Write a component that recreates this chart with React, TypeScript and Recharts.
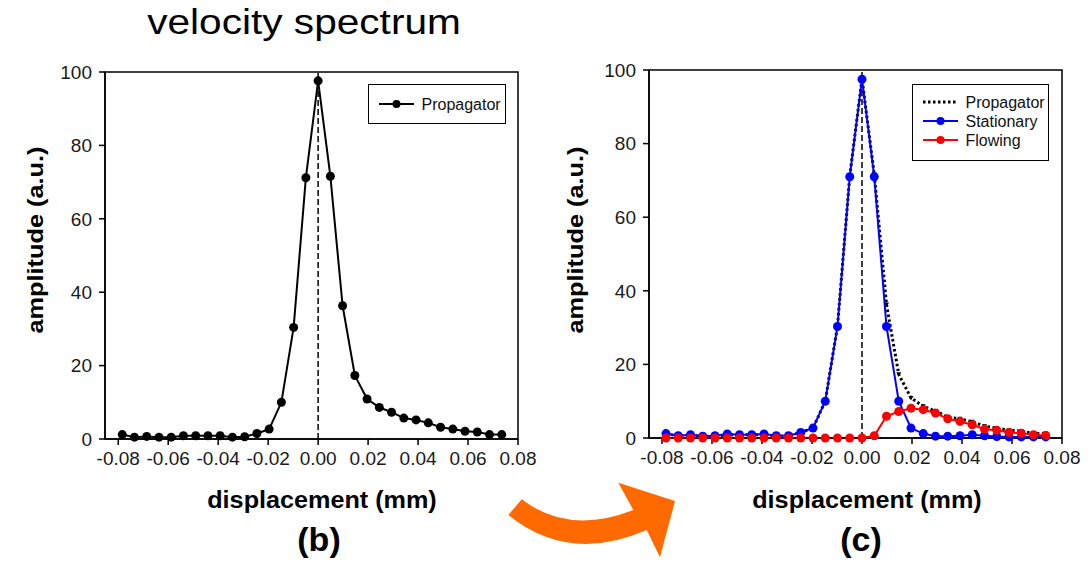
import React from "react";
import { LineChart, Line, XAxis, YAxis, ReferenceLine, ReferenceArea, Legend } from "recharts";

const FONT = '"Liberation Sans", Arial, Helvetica, sans-serif';

// displacement (mm) of each sample
const displacement = [
  -0.0784, -0.0735, -0.0686, -0.0637, -0.0588, -0.0539, -0.049, -0.0441,
  -0.0392, -0.0343, -0.0294, -0.0245, -0.0196, -0.0147, -0.0098, -0.0049,
  0, 0.0049, 0.0098, 0.0147, 0.0196, 0.0245, 0.0294, 0.0343,
  0.0392, 0.0441, 0.049, 0.0539, 0.0588, 0.0637, 0.0686, 0.0735,
];

const propagator = [
  1.2, 0.5, 0.7, 0.5, 0.5, 0.9, 0.9, 0.9,
  0.9, 0.5, 0.6, 1.5, 2.7, 10.0, 30.4, 71.2,
  97.6, 71.6, 36.3, 17.3, 10.9, 8.6, 7.3, 5.7,
  5.2, 4.4, 3.2, 2.7, 2.1, 1.9, 1.2, 1.2,
];

const stationary = [
  1.2, 0.6, 0.9, 0.5, 0.6, 1.1, 0.9, 0.9,
  1.1, 0.6, 0.6, 1.5, 2.7, 10.0, 30.3, 71.0,
  97.5, 71.0, 30.3, 10.0, 2.7, 1.2, 0.5, 0.5,
  0.6, 0.9, 0.6, 0.4, 0.3, 0.3, 0.3, 0.3,
];

const flowing = [
  0, 0, 0, 0, 0, 0, 0, 0,
  0, 0, 0, 0, 0, 0, 0, 0,
  0, 0.6, 5.9, 7.2, 8.1, 7.7, 6.8, 5.2,
  4.5, 3.6, 2.4, 2.1, 1.5, 1.3, 0.9, 0.7,
];

const xTicks = [-0.08, -0.06, -0.04, -0.02, 0, 0.02, 0.04, 0.06, 0.08];
const yTicks = [0, 20, 40, 60, 80, 100];
const xDomainB: [number, number] = [-0.0853, 0.08];
const xDomainC: [number, number] = [-0.0852, 0.08];

const dataB = displacement.map((x, i) => ({ x, propagator: propagator[i] }));
const dataC = displacement.map((x, i) => ({
  x,
  propagator: propagator[i],
  stationary: stationary[i],
  flowing: flowing[i],
}));

const tickStyle = { fill: "#1a1a1a", fontSize: 19, fontFamily: FONT };
const axisStroke = { stroke: "#000", strokeWidth: 1.5 };

type Item = { label: string; color: string; dotted?: boolean };

function LegendBox({ items, width, padTop, padBottom }: { items: Item[]; width: number; padTop: number; padBottom: number }) {
  return (
    <div
      style={{
        border: "1.5px solid #000",
        background: "#fff",
        width,
        boxSizing: "border-box",
        paddingTop: padTop,
        paddingBottom: padBottom,
        fontFamily: FONT,
        fontSize: 16,
        color: "#111",
      }}
    >
      {items.map((it) => (
        <div key={it.label} style={{ display: "flex", alignItems: "center", height: 19 }}>
          <svg width={35} height={10} style={{ marginLeft: 9.5, marginRight: 8, display: "block" }}>
            <line
              x1={0}
              y1={5}
              x2={35}
              y2={5}
              stroke={it.color}
              strokeWidth={it.dotted ? 3 : 2}
              strokeDasharray={it.dotted ? "2.5 2.5" : undefined}
            />
            {!it.dotted && <circle cx={17.5} cy={5} r={4} fill={it.color} />}
          </svg>
          <span style={{ lineHeight: "19px", whiteSpace: "nowrap" }}>{it.label}</span>
        </div>
      ))}
    </div>
  );
}

// small down-pointing triangles on the dotted propagator line
const triDot = (p: any) => {
  if (p.cx == null || p.cy == null) return <g key={p.index} />;
  return (
    <path
      key={p.index}
      d={`M${p.cx - 2.5},${p.cy - 2} L${p.cx + 2.5},${p.cy - 2} L${p.cx},${p.cy + 2.5} Z`}
      fill="#000"
    />
  );
};

function HText({ x, top, size, bold, scale, children }: any) {
  return (
    <div
      style={{
        position: "absolute",
        left: x,
        top,
        fontSize: size,
        fontWeight: bold ? "bold" : "normal",
        lineHeight: 1,
        whiteSpace: "nowrap",
        color: "#000",
        transform: `translateX(-50%) scaleX(${scale ?? 1})`,
      }}
    >
      {children}
    </div>
  );
}

function VText({ x, y, size, scale, children }: any) {
  return (
    <div
      style={{
        position: "absolute",
        left: x,
        top: y,
        fontSize: size,
        fontWeight: "bold",
        lineHeight: 1,
        whiteSpace: "nowrap",
        color: "#000",
        transform: `translate(-50%, -50%) rotate(-90deg) scaleX(${scale ?? 1})`,
      }}
    >
      {children}
    </div>
  );
}

export default function App() {
  return (
    <div
      style={{
        position: "absolute",
        left: 0,
        top: 0,
        width: 1090,
        height: 570,
        background: "#fff",
        fontFamily: FONT,
        overflow: "hidden",
      }}
    >
      <HText x={303.5} top={4} size={35} scale={1.16}>velocity spectrum</HText>

      {/* panel (b) */}
      <div style={{ position: "absolute", left: 0, top: 0 }}>
        <LineChart width={545} height={570} data={dataB} margin={{ top: 72, right: 27, bottom: 101, left: 45 }}>
          <XAxis
            dataKey="x"
            type="number"
            domain={xDomainB}
            ticks={xTicks}
            allowDataOverflow
            interval={0}
            tickFormatter={(v: number) => v.toFixed(2)}
            tick={tickStyle}
            axisLine={axisStroke}
            tickLine={axisStroke}
            tickSize={6}
            tickMargin={7}
            height={30}
          />
          <YAxis
            type="number"
            domain={[0, 100]}
            ticks={yTicks}
            interval={0}
            tick={tickStyle}
            axisLine={axisStroke}
            tickLine={axisStroke}
            tickSize={6}
            tickMargin={7}
            width={60}
          />
          <ReferenceArea x1={xDomainB[0]} x2={xDomainB[1]} y1={0} y2={100} fill="none" stroke="#000" strokeWidth={1.5} />
          <ReferenceLine x={0} stroke="#000" strokeWidth={1.5} strokeDasharray="6 3" />
          <Line
            type="linear"
            dataKey="propagator"
            name="Propagator"
            stroke="#000"
            strokeWidth={2}
            dot={{ r: 4.5, fill: "#000", stroke: "#000", strokeWidth: 0 }}
            activeDot={false}
            isAnimationActive={false}
          />
          <Legend
            layout="horizontal"
            verticalAlign="middle"
            align="center"
            wrapperStyle={{ left: 368, top: 84, width: 138 }}
            content={() => (
              <LegendBox items={[{ label: "Propagator", color: "#000" }]} width={138} padTop={9.5} padBottom={9.5} />
            )}
          />
        </LineChart>
      </div>

      {/* panel (c) */}
      <div style={{ position: "absolute", left: 545, top: 0 }}>
        <LineChart width={545} height={570} data={dataC} margin={{ top: 70, right: 28, bottom: 102, left: 44 }}>
          <XAxis
            dataKey="x"
            type="number"
            domain={xDomainC}
            ticks={xTicks}
            allowDataOverflow
            interval={0}
            tickFormatter={(v: number) => v.toFixed(2)}
            tick={tickStyle}
            axisLine={axisStroke}
            tickLine={axisStroke}
            tickSize={6}
            tickMargin={7}
            height={30}
          />
          <YAxis
            type="number"
            domain={[0, 100]}
            ticks={yTicks}
            interval={0}
            tick={tickStyle}
            axisLine={axisStroke}
            tickLine={axisStroke}
            tickSize={6}
            tickMargin={7}
            width={60}
          />
          <ReferenceArea x1={xDomainC[0]} x2={xDomainC[1]} y1={0} y2={100} fill="none" stroke="#000" strokeWidth={1.5} />
          <ReferenceLine x={0} stroke="#000" strokeWidth={1.5} strokeDasharray="6 3" />
          <Line
            type="linear"
            dataKey="propagator"
            name="Propagator"
            stroke="#000"
            strokeWidth={3}
            strokeDasharray="2.5 2.5"
            dot={triDot}
            activeDot={false}
            isAnimationActive={false}
          />
          <Line
            type="linear"
            dataKey="stationary"
            name="Stationary"
            stroke="#0000ff"
            strokeWidth={2}
            dot={{ r: 4.5, fill: "#0000ff", stroke: "#0000ff", strokeWidth: 0 }}
            activeDot={false}
            isAnimationActive={false}
          />
          <Line
            type="linear"
            dataKey="flowing"
            name="Flowing"
            stroke="#ff0000"
            strokeWidth={2}
            dot={{ r: 4.5, fill: "#ff0000", stroke: "#ff0000", strokeWidth: 0 }}
            activeDot={false}
            isAnimationActive={false}
          />
          <Legend
            layout="horizontal"
            verticalAlign="middle"
            align="center"
            wrapperStyle={{ left: 367, top: 84, width: 137 }}
            content={() => (
              <LegendBox
                items={[
                  { label: "Propagator", color: "#000", dotted: true },
                  { label: "Stationary", color: "#0000ff" },
                  { label: "Flowing", color: "#ff0000" },
                ]}
                width={137}
                padTop={7.5}
                padBottom={10.5}
              />
            )}
          />
        </LineChart>
      </div>

      <VText x={36} y={240} size={22} scale={1.15}>amplitude (a.u.)</VText>
      <VText x={576} y={240} size={22} scale={1.15}>amplitude (a.u.)</VText>

      <HText x={322} top={489} size={23} bold scale={1.095}>displacement (mm)</HText>
      <HText x={867} top={489} size={23} bold scale={1.095}>displacement (mm)</HText>

      <HText x={319} top={522} size={34} bold>(b)</HText>
      <HText x={861} top={522} size={34} bold>(c)</HText>

      {/* orange arrow from (b) to (c) */}
      <svg width={1090} height={570} style={{ position: "absolute", left: 0, top: 0, pointerEvents: "none" }}>
        <path
          d="M521.7,499.3 Q569,535.3 633.3,510 L618.3,482.7 L675,501 L660,557.3 L646.7,530 Q569,564 508.3,515 Z"
          fill="#ff6a00"
        />
      </svg>
    </div>
  );
}
